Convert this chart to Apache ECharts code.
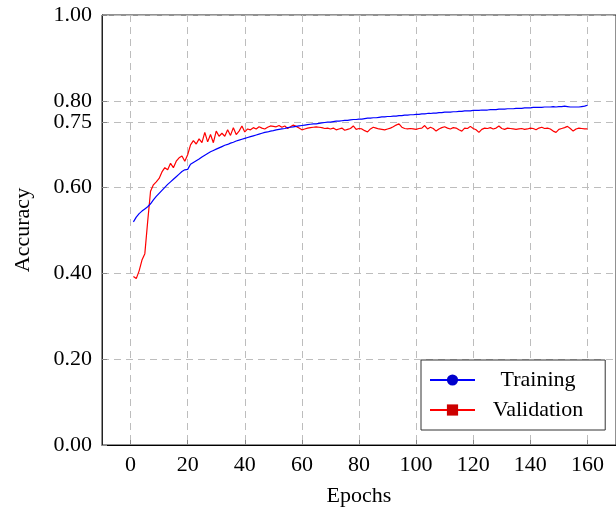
<!DOCTYPE html>
<html>
<head>
<meta charset="utf-8">
<script src="https://cdn.jsdelivr.net/npm/echarts@6/dist/echarts.min.js"></script>
<style>
  html, body { margin: 0; padding: 0; background: #fff; }
  #main { width: 616px; height: 514px; }
</style>
</head>
<body>
<div id="main"></div>
<script>
// accuracy per epoch, epochs 1..160
var training = [
  0.519, 0.530, 0.538, 0.544, 0.549, 0.554, 0.561, 0.570, 0.578, 0.585,
  0.592, 0.599, 0.606, 0.612, 0.618, 0.624, 0.630, 0.636, 0.640, 0.641,
  0.653, 0.657, 0.661, 0.665, 0.670, 0.674, 0.678, 0.682, 0.685, 0.688,
  0.691, 0.694, 0.697, 0.699, 0.702, 0.704, 0.707, 0.709, 0.711, 0.713,
  0.715, 0.717, 0.719, 0.721, 0.723, 0.725, 0.727, 0.728, 0.730, 0.731,
  0.733, 0.734, 0.735, 0.736, 0.738, 0.739, 0.740, 0.741, 0.742, 0.743,
  0.744, 0.745, 0.746, 0.747, 0.747, 0.748, 0.749, 0.750, 0.751, 0.751,
  0.752, 0.753, 0.753, 0.754, 0.755, 0.755, 0.756, 0.757, 0.757, 0.758,
  0.758, 0.759, 0.760, 0.760, 0.761, 0.761, 0.762, 0.763, 0.763, 0.764,
  0.764, 0.765, 0.765, 0.766, 0.766, 0.767, 0.767, 0.768, 0.768, 0.769,
  0.769, 0.770, 0.770, 0.771, 0.771, 0.772, 0.772, 0.773, 0.773, 0.774,
  0.774, 0.774, 0.775, 0.775, 0.776, 0.776, 0.777, 0.777, 0.777, 0.778,
  0.778, 0.778, 0.779, 0.779, 0.779, 0.780, 0.780, 0.780, 0.781, 0.781,
  0.781, 0.782, 0.782, 0.782, 0.783, 0.783, 0.783, 0.784, 0.784, 0.784,
  0.785, 0.785, 0.785, 0.785, 0.786, 0.786, 0.786, 0.787, 0.786, 0.787,
  0.787, 0.788, 0.787, 0.786, 0.786, 0.786, 0.786, 0.787, 0.788, 0.790
];
var validation = [
  0.392, 0.387, 0.405, 0.430, 0.445, 0.520, 0.590, 0.605, 0.612, 0.620,
  0.635, 0.645, 0.640, 0.655, 0.645, 0.660, 0.668, 0.672, 0.660, 0.675,
  0.698, 0.708, 0.700, 0.712, 0.703, 0.727, 0.705, 0.722, 0.703, 0.730,
  0.718, 0.725, 0.718, 0.733, 0.720, 0.738, 0.722, 0.730, 0.742, 0.728,
  0.735, 0.733, 0.738, 0.735, 0.740, 0.737, 0.735, 0.739, 0.742, 0.741,
  0.740, 0.743, 0.739, 0.742, 0.736, 0.740, 0.744, 0.741, 0.737, 0.733,
  0.735, 0.737, 0.738, 0.739, 0.740, 0.739, 0.738, 0.736, 0.737, 0.735,
  0.737, 0.733, 0.735, 0.737, 0.732, 0.734, 0.736, 0.742, 0.734, 0.736,
  0.735, 0.731, 0.728, 0.735, 0.739, 0.737, 0.735, 0.734, 0.733, 0.735,
  0.737, 0.740, 0.744, 0.747, 0.739, 0.736, 0.735, 0.736, 0.735, 0.734,
  0.736, 0.737, 0.743, 0.735, 0.739, 0.736, 0.730, 0.735, 0.738, 0.740,
  0.737, 0.735, 0.738, 0.737, 0.733, 0.730, 0.737, 0.736, 0.741, 0.736,
  0.733, 0.727, 0.734, 0.737, 0.736, 0.738, 0.735, 0.737, 0.742, 0.736,
  0.734, 0.737, 0.736, 0.735, 0.734, 0.735, 0.736, 0.734, 0.735, 0.737,
  0.736, 0.733, 0.737, 0.739, 0.736, 0.737, 0.735, 0.730, 0.727, 0.734,
  0.736, 0.738, 0.741, 0.736, 0.730, 0.735, 0.737, 0.736, 0.735, 0.735
];
var xTicks = [0, 20, 40, 60, 80, 100, 120, 140, 160];
var yTicks = [0, 0.2, 0.4, 0.6, 0.75, 0.8, 1.0];

var font = '"Liberation Serif", "Times New Roman", serif';

function toPoints(arr) {
  return arr.map(function (v, i) { return [i + 1, v]; });
}

var chart = echarts.init(document.getElementById('main'));

var option = {
  animation: false,
  backgroundColor: '#fff',
  grid: {
    left: 102,
    right: -6,
    top: 15,
    bottom: 69,
    show: true,
    borderColor: '#222',
    borderWidth: 1,
    backgroundColor: 'transparent'
  },
  legend: {
    orient: 'vertical',
    left: 421,
    top: 360,
    padding: [9, 22, 9, 8],
    itemWidth: 45,
    itemHeight: 14,
    itemGap: 8,
    backgroundColor: '#fff',
    borderColor: '#333',
    borderWidth: 1,
    borderRadius: 0,
    formatter: function (name) { return '{t|' + name + '}'; },
    textStyle: {
      fontFamily: font,
      fontSize: 22,
      color: '#000',
      rich: {
        t: {
          fontFamily: font,
          fontSize: 22,
          color: '#000',
          width: 116,
          align: 'center'
        }
      }
    },
    data: ['Training', 'Validation']
  },
  xAxis: {
    type: 'value',
    min: -10,
    max: 170,
    name: 'Epochs',
    nameLocation: 'middle',
    nameGap: 40,
    nameTextStyle: { fontFamily: font, fontSize: 22, color: '#000' },
    axisLine: { show: true, onZero: false, lineStyle: { color: '#000', width: 1 } },
    axisTick: {
      show: true,
      inside: true,
      length: 5,
      customValues: xTicks,
      lineStyle: { color: '#888' }
    },
    axisLabel: {
      customValues: xTicks,
      margin: 9,
      fontFamily: font,
      fontSize: 22,
      color: '#000'
    },
    splitLine: {
      show: true,
      lineStyle: { color: '#bdbdbd', type: [7, 5], width: 1 }
    }
  },
  yAxis: {
    type: 'value',
    min: 0,
    max: 1,
    name: 'Accuracy',
    nameLocation: 'middle',
    nameGap: 68,
    nameTextStyle: { fontFamily: font, fontSize: 22, color: '#000' },
    axisLine: { show: true, onZero: false, lineStyle: { color: '#222', width: 1 } },
    axisTick: {
      show: true,
      inside: true,
      length: 5,
      customValues: yTicks,
      lineStyle: { color: '#888' }
    },
    axisLabel: {
      customValues: yTicks,
      margin: 10,
      fontFamily: font,
      fontSize: 22,
      color: '#000',
      formatter: function (v) { return v.toFixed(2); }
    },
    splitLine: {
      show: true,
      lineStyle: { color: '#bdbdbd', type: [7, 5], width: 1 }
    }
  },
  series: [
    {
      name: 'Training',
      type: 'line',
      data: toPoints(training),
      symbol: 'circle',
      showSymbol: false,
      itemStyle: { color: '#0000cc' },
      lineStyle: { color: '#0000ff', width: 1.2 },
      z: 3
    },
    {
      name: 'Validation',
      type: 'line',
      data: toPoints(validation),
      symbol: 'rect',
      showSymbol: false,
      itemStyle: { color: '#cc0000' },
      lineStyle: { color: '#ff0000', width: 1.2 },
      z: 2
    }
  ]
};

chart.setOption(option);
</script>
</body>
</html>
